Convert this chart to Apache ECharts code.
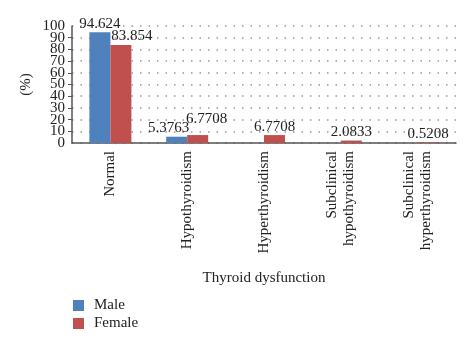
<!DOCTYPE html>
<html>
<head>
<meta charset="utf-8">
<script src="https://cdn.jsdelivr.net/npm/echarts@6/dist/echarts.min.js"></script>
<style>
  html, body { margin: 0; padding: 0; background: #fff; }
  #chart { width: 474px; height: 344px; }
</style>
</head>
<body>
<div id="chart"></div>
<script>
// Thyroid dysfunction prevalence (%) by sex
const categories = ['Normal', 'Hypothyroidism', 'Hyperthyroidism', 'Subclinical\nhypothyroidism', 'Subclinical\nhyperthyroidism'];
const maleValues = [94.624, 5.3763, 0, 0, 0];
const femaleValues = [83.854, 6.7708, 6.7708, 2.0833, 0.5208];
const valueLabels = {
  male: ['94.624', '5.3763', '', '', ''],
  female: ['83.854', '6.7708', '6.7708', '2.0833', '0.5208']
};
const yMin = 0;
const yMax = 100;
const yStep = 10;

const SERIF = '"Liberation Serif", "DejaVu Serif", serif';
const labelStyle = { show: true, position: 'top', distance: 1, color: '#222', fontFamily: SERIF, fontSize: 15 };
const tickLabelStyle = {
  color: '#222',
  margin: 7,
  hideOverlap: false,
  formatter: '{t|{value}}',
  rich: { t: { fontFamily: SERIF, fontSize: 15, height: 10, lineHeight: 10, color: '#222' } }
};

// Nudge labels that would otherwise collide with their neighbours
const labelOffsets = {
  male: [null, [-8, 0], null, null, null],
  female: [[11, 0], [9, -8], null, null, null]
};

function buildData(values, texts, offsets) {
  return values.map((v, i) => {
    const item = { value: v, label: { formatter: texts[i] } };
    if (offsets[i]) item.label.offset = offsets[i];
    return item;
  });
}

const chart = echarts.init(document.getElementById('chart'));
chart.setOption({
  animation: false,
  textStyle: { fontFamily: SERIF },
  grid: { left: 72, right: 18, top: 26, bottom: 201, containLabel: false },
  legend: {
    orient: 'vertical',
    left: 68,
    top: 293,
    itemWidth: 11,
    itemHeight: 11,
    itemGap: 3,
    icon: 'rect',
    textStyle: { fontFamily: SERIF, fontSize: 15, color: '#222', padding: [0, 0, 0, 5] },
    data: ['Male', 'Female']
  },
  xAxis: {
    type: 'category',
    data: categories,
    name: 'Thyroid dysfunction',
    nameLocation: 'middle',
    nameGap: 128,
    nameTextStyle: { fontFamily: SERIF, fontSize: 15, color: '#222' },
    axisLine: { lineStyle: { color: '#555', width: 1.5 } },
    axisTick: { show: false },
    axisLabel: {
      rotate: 90,
      interval: 0,
      margin: 8,
      fontFamily: SERIF,
      fontSize: 15,
      lineHeight: 17,
      color: '#222'
    }
  },
  yAxis: [
    {
      // Main value axis: line, ticks, dotted grid and the inner tick labels
      type: 'value',
      position: 'left',
      min: yMin,
      max: yMax,
      interval: yStep,
      name: '(%)',
      nameLocation: 'middle',
      nameRotate: 90,
      nameGap: 38,
      nameTextStyle: { fontFamily: SERIF, fontSize: 15, color: '#222' },
      axisLine: { show: true, lineStyle: { color: '#555', width: 1.5 } },
      axisTick: { show: true, length: 4, lineStyle: { color: '#555' } },
      axisLabel: Object.assign({ interval: 0, showMinLabel: false, showMaxLabel: false }, tickLabelStyle),
      splitLine: { show: true, lineStyle: { color: '#999', type: [1.5, 7], width: 1.5 } }
    },
    {
      // Same scale, only carries the end labels (0 and 100)
      type: 'value',
      position: 'left',
      offset: 0,
      min: yMin,
      max: yMax,
      interval: yMax - yMin,
      axisLine: { show: false },
      axisTick: { show: false },
      splitLine: { show: false },
      axisLabel: Object.assign({ showMinLabel: true, showMaxLabel: true }, tickLabelStyle)
    }
  ],
  series: [
    {
      name: 'Male',
      type: 'bar',
      yAxisIndex: 0,
      barWidth: 21,
      barGap: '0%',
      itemStyle: { color: '#4F81BD' },
      label: labelStyle,
      data: buildData(maleValues, valueLabels.male, labelOffsets.male)
    },
    {
      name: 'Female',
      type: 'bar',
      yAxisIndex: 0,
      barWidth: 21,
      barGap: '0%',
      itemStyle: { color: '#C0504D' },
      label: labelStyle,
      data: buildData(femaleValues, valueLabels.female, labelOffsets.female)
    }
  ]
});
</script>
</body>
</html>
